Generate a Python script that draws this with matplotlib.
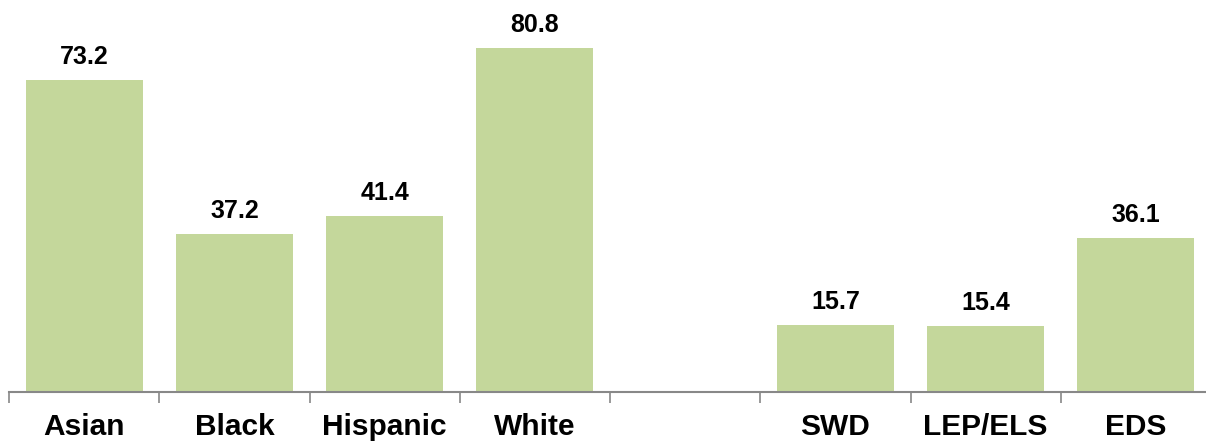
import numpy as np
import matplotlib.pyplot as plt

# Data
categories = ['Asian', 'Black', 'Hispanic', 'White', '', 'SWD', 'LEP/ELS', 'EDS']
values = [73.2, 37.2, 41.4, 80.8, None, 15.7, 15.4, 36.1]

plt.rcParams['font.family'] = ['Liberation Sans', 'DejaVu Sans']

fig = plt.figure(figsize=(12.06, 4.43), dpi=100)
ax = fig.add_axes([9 / 1206, 51 / 443, 1202 / 1206, 392 / 443])

x = np.arange(len(categories))
for xi, v in zip(x, values):
    if v is None:
        continue
    ax.bar(xi, v, width=0.78, color='#C4D79B')
    ax.text(xi, v + 2.6, f'{v:.1f}', ha='center', va='bottom',
            fontsize=18, fontweight='bold')

ax.set_xlim(-0.5, len(categories) - 0.5)
ax.set_ylim(0, 92.1)

ax.set_xticks(x)
ax.set_xticklabels(categories, fontsize=21.5, fontweight='bold')
ax.set_xticks(np.arange(len(categories)) - 0.5, minor=True)
ax.tick_params(axis='x', which='major', length=0, pad=15)
ax.tick_params(axis='x', which='minor', length=8, width=1.2, color='#888888',
               direction='out')
ax.set_yticks([])

for s in ['top', 'right', 'left']:
    ax.spines[s].set_visible(False)
ax.spines['bottom'].set_color('#888888')
ax.spines['bottom'].set_linewidth(1.5)

fig.savefig('out.png', dpi=100)
